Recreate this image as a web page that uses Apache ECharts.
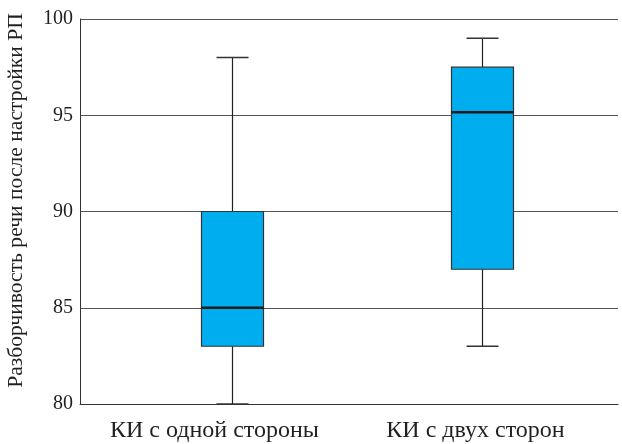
<!DOCTYPE html>
<html><head><meta charset="utf-8">
<script src="https://cdn.jsdelivr.net/npm/echarts@6/dist/echarts.min.js"></script>
<style>html,body{margin:0;padding:0;background:#fff}#c{width:622px;height:444px}</style>
</head><body><div id="c"></div>
<script>
const categories = ['КИ с одной стороны', 'КИ с двух сторон'];
// [min, Q1, median, Q3, max]
const boxValues = [
  [80, 83, 85, 90, 98],
  [83, 87, 95.15, 97.5, 99]
];
const yTicks = [80, 85, 90, 95, 100];
const yTitle = 'Разборчивость речи после настройки РП';

const FONT = '"Liberation Serif", "Times New Roman", serif';
const TXT = '#231f20';
const chart = echarts.init(document.getElementById('c'), null, {renderer: 'canvas'});
const data = boxValues.map((v, i) => [i + 1].concat(v));

chart.setOption({
  animation: false,
  grid: {left: 80, right: 4, top: 19, bottom: 40, containLabel: false, outerBoundsMode: 'none'},
  xAxis: [
    {type: 'category', data: categories, boundaryGap: true,
     axisLine: {show: true, lineStyle: {color: '#333', width: 1}},
     axisTick: {show: false},
     axisLabel: {interval: 0, hideOverlap: false, color: TXT, fontFamily: FONT, fontSize: 24, margin: 15,
       formatter: function (v, i) { return i === 1 ? '{b|' + v + '}' : '{a|' + v + '}'; },
       rich: {
         a: {color: TXT, fontFamily: FONT, fontSize: 24},
         b: {color: TXT, fontFamily: FONT, fontSize: 24, padding: [0, 16, 0, 0]}
       }}},
    {type: 'value', min: 0.392, max: 2.544, show: false}
  ],
  yAxis: {
    type: 'value', min: yTicks[0], max: yTicks[yTicks.length - 1], interval: 5,
    name: yTitle, nameLocation: 'middle', nameGap: 53,
    nameTextStyle: {color: TXT, fontFamily: FONT, fontSize: 21.6, padding: [0, 0, 0, 22]},
    axisLine: {show: true, lineStyle: {color: '#333', width: 1}},
    axisTick: {show: false},
    axisLabel: {color: TXT, fontFamily: FONT, fontSize: 20, margin: 7},
    splitLine: {show: true, lineStyle: {color: '#555', width: 1}}
  },
  series: [{
    type: 'custom',
    xAxisIndex: 1,
    data: data,
    encode: {x: 0, y: [1, 2, 3, 4, 5]},
    renderItem: function (params, api) {
      const x = api.value(0);
      const pMin = api.coord([x, api.value(1)]);
      const pQ1 = api.coord([x, api.value(2)]);
      const pMed = api.coord([x, api.value(3)]);
      const pQ3 = api.coord([x, api.value(4)]);
      const pMax = api.coord([x, api.value(5)]);
      const unit = api.size([1, 0])[0];
      const bw = unit * 0.248;
      const cw = unit * 0.128;
      const cx = Math.round(pMin[0]) + 0.5;
      const line = (x1, y1, x2, y2, w, c) => ({type: 'line', shape: {x1, y1, x2, y2},
        style: {stroke: c, lineWidth: w}});
      return {type: 'group', children: [
        line(cx, pMax[1], cx, pQ3[1], 1.2, '#222'),
        line(cx, pQ1[1], cx, pMin[1], 1.2, '#222'),
        line(cx - cw / 2, pMax[1], cx + cw / 2, pMax[1], 1.5, '#333'),
        line(cx - cw / 2, pMin[1], cx + cw / 2, pMin[1], 1.5, '#333'),
        {type: 'rect', shape: {x: cx - bw / 2, y: pQ3[1], width: bw, height: pQ1[1] - pQ3[1]},
         style: {fill: '#00aeef', stroke: '#333', lineWidth: 1.2}},
        line(cx - bw / 2, pMed[1], cx + bw / 2, pMed[1], 2.5, '#1a1a1a')
      ]};
    }
  }]
});
</script></body></html>
